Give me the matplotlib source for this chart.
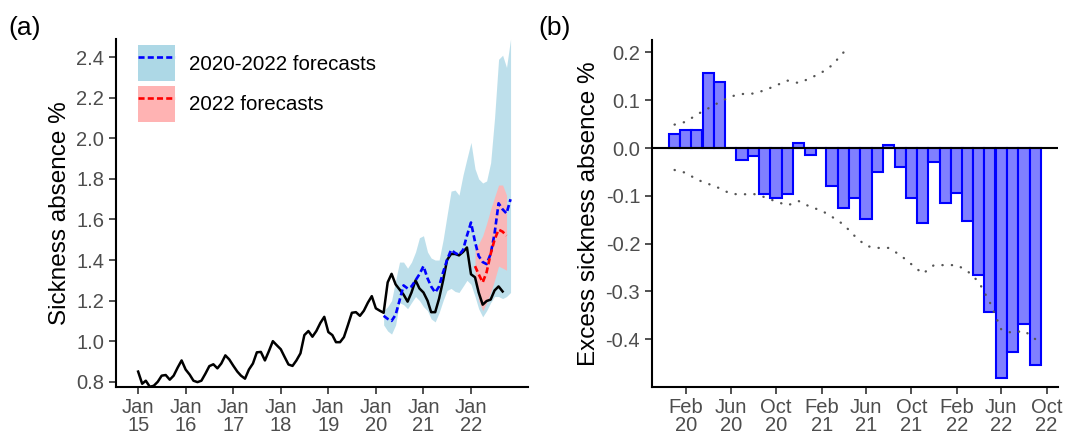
import numpy as np
import pandas as pd
import matplotlib
matplotlib.use("Agg")
import matplotlib.pyplot as plt
from matplotlib.patches import Patch
from matplotlib.lines import Line2D

plt.rcParams['font.family'] = ['Liberation Sans', 'DejaVu Sans']

# ---- panel (a): monthly sickness absence rate, Jan 2015 - Sep 2022
observed = [
    0.85, 0.79, 0.805, 0.775, 0.78, 0.80, 0.83, 0.833, 0.81, 0.83, 0.87, 0.905,
    0.86, 0.835, 0.805, 0.798, 0.805, 0.84, 0.877, 0.886, 0.866, 0.89, 0.93, 0.91,
    0.879, 0.85, 0.83, 0.815, 0.86, 0.89, 0.945, 0.947, 0.905, 0.95, 1.00, 0.98,
    0.96, 0.92, 0.885, 0.878, 0.905, 0.94, 1.03, 1.05, 1.022, 1.05, 1.09, 1.12,
    1.045, 1.03, 0.995, 0.995, 1.02, 1.08, 1.14, 1.143, 1.125, 1.15, 1.19, 1.222,
    1.162, 1.15, 1.14, 1.29, 1.332, 1.28, 1.255, 1.23, 1.195, 1.24, 1.30, 1.26,
    1.24, 1.20, 1.143, 1.143, 1.21, 1.30, 1.40, 1.43, 1.43, 1.423, 1.44, 1.462,
    1.33, 1.315, 1.24, 1.18, 1.198, 1.205, 1.25, 1.27, 1.245,
]
obs_dates = pd.date_range("2015-01-01", periods=len(observed), freq="MS")

# 2020-2022 forecasts (Mar 2020 - Nov 2022)
fc_all = [1.125, 1.11, 1.10, 1.13, 1.20, 1.275, 1.26, 1.27, 1.30, 1.33, 1.37,
          1.31, 1.27, 1.24, 1.27, 1.34, 1.40, 1.45, 1.435, 1.425, 1.45, 1.52,
          1.585, 1.49, 1.42, 1.39, 1.38, 1.43, 1.53, 1.68, 1.65, 1.63, 1.70]
fc_all_hi = [1.15, 1.17, 1.20, 1.30, 1.39, 1.39, 1.36, 1.39, 1.44, 1.51, 1.52,
             1.44, 1.41, 1.40, 1.40, 1.50, 1.62, 1.74, 1.745, 1.72, 1.82, 1.90,
             1.98, 1.85, 1.80, 1.78, 1.79, 1.88, 2.10, 2.39, 2.41, 2.35, 2.49]
fc_all_lo = [1.08, 1.05, 1.035, 1.08, 1.19, 1.18, 1.16, 1.19, 1.22, 1.20, 1.17,
             1.15, 1.11, 1.095, 1.14, 1.20, 1.25, 1.26, 1.245, 1.24, 1.27, 1.30,
             1.28, 1.22, 1.16, 1.12, 1.15, 1.19, 1.22, 1.22, 1.21, 1.22, 1.24]
fc_all_dates = pd.date_range("2020-03-01", periods=len(fc_all), freq="MS")

# 2022 forecasts (Feb 2022 - Oct 2022)
fc_22 = [1.37, 1.33, 1.29, 1.34, 1.43, 1.50, 1.55, 1.54, 1.52]
fc_22_hi = [1.46, 1.48, 1.52, 1.58, 1.65, 1.71, 1.77, 1.77, 1.72]
fc_22_lo = [1.33, 1.20, 1.15, 1.19, 1.24, 1.30, 1.37, 1.36, 1.35]
fc_22_dates = pd.date_range("2022-02-01", periods=len(fc_22), freq="MS")

# ---- panel (b): monthly excess sickness absence, Jan 2020 - Sep 2022
excess = [0.03, 0.038, 0.038, 0.158, 0.138, 0.0, -0.025, -0.017, -0.096, -0.104,
          -0.097, 0.01, -0.015, 0.0, -0.08, -0.125, -0.104, -0.149, -0.051, 0.006,
          -0.04, -0.105, -0.156, -0.03, -0.115, -0.095, -0.153, -0.266, -0.344,
          -0.481, -0.426, -0.368, -0.455]
exc_dates = pd.date_range("2020-01-01", periods=len(excess), freq="MS")
exc_upper = [0.049, 0.055, 0.07, 0.083, 0.096, 0.108, 0.113, 0.114, 0.121, 0.131,
             0.141, 0.136, 0.146, 0.158, 0.173, 0.2]
exc_lower = [-0.046, -0.052, -0.066, -0.075, -0.084, -0.096, -0.097, -0.096, -0.103,
             -0.112, -0.12, -0.111, -0.123, -0.131, -0.144, -0.16, -0.184, -0.205,
             -0.209, -0.209, -0.224, -0.243, -0.263, -0.245, -0.245, -0.245, -0.257,
             -0.28, -0.323, -0.38, -0.387, -0.382, -0.40]

tick_grey = "#4d4d4d"
dash = (0, (2.3, 1.2))

fig = plt.figure(figsize=(10.65, 4.38), dpi=100)
ax1 = fig.add_axes([116 / 1065, 1 - 387 / 438, (528 - 116) / 1065, (387 - 39) / 438])
ax2 = fig.add_axes([652 / 1065, 1 - 387 / 438, (1058 - 652) / 1065, (387 - 40) / 438])

# panel (a)
ax1.fill_between(fc_all_dates, fc_all_lo, fc_all_hi, color="#add8e6", alpha=0.8,
                 linewidth=0)
ax1.fill_between(fc_22_dates, fc_22_lo, fc_22_hi, color="#ffb3b3", alpha=0.9,
                 linewidth=0)
ax1.plot(obs_dates, observed, color="black", lw=1.8)
ax1.plot(fc_all_dates, fc_all, color="blue", lw=1.9, ls=dash)
ax1.plot(fc_22_dates, fc_22, color="red", lw=1.9, ls=dash)

ax1.set_xlim(pd.Timestamp("2014-07-15"), pd.Timestamp("2023-03-15"))
ax1.set_ylim(0.774, 2.49)
yt = np.arange(0.8, 2.41, 0.2)
ax1.set_yticks(yt)
ax1.set_yticklabels([f"{v:.1f}" for v in yt])
jan_ticks = pd.date_range("2015-01-01", "2022-01-01", freq="YS")
ax1.set_xticks(jan_ticks)
ax1.set_xticklabels([f"Jan\n{d.strftime('%y')}" for d in jan_ticks])
ax1.set_ylabel("Sickness absence %", fontsize=17.5)

leg_handles = [
    (Patch(facecolor="#add8e6", edgecolor="none"),
     Line2D([], [], color="blue", lw=1.9, ls=dash)),
    (Patch(facecolor="#ffb3b3", edgecolor="none"),
     Line2D([], [], color="red", lw=1.9, ls=dash)),
]
ax1.legend(leg_handles, ["2020-2022 forecasts", "2022 forecasts"], loc="upper left",
           bbox_to_anchor=((138 - 116) / 412, 1 - (45 - 39) / 348), frameon=False,
           fontsize=14.8, handlelength=1.8, handleheight=2.35, labelspacing=0.2,
           handletextpad=0.7, borderaxespad=0, borderpad=0)

# panel (b)
ax2.bar(exc_dates, excess, width=30.4, color="#8080ff", edgecolor="blue",
        linewidth=1.5, zorder=2)
ax2.axhline(0, color="black", lw=1.5, zorder=3)
for band in (exc_upper, exc_lower):
    ax2.plot(exc_dates[:len(band)], band, color="#555555", lw=1.7,
             ls=(0, (0.1, 3.9)), dash_capstyle="round", zorder=4)
ax2.set_xlim(pd.Timestamp("2019-11-01"), pd.Timestamp("2022-11-01"))
ax2.set_ylim(-0.5, 0.226)
bt = [-0.4, -0.3, -0.2, -0.1, 0.0, 0.1, 0.2]
ax2.set_yticks(bt)
ax2.set_yticklabels([f"{v:.1f}" for v in bt])
b_ticks = pd.date_range("2020-02-01", "2022-10-01", freq="4MS")
ax2.set_xticks(b_ticks)
ax2.set_xticklabels([f"{d.strftime('%b')}\n{d.strftime('%y')}" for d in b_ticks])
ax2.set_ylabel("Excess sickness absence %", fontsize=17.5)

for ax in (ax1, ax2):
    for s in ("top", "right"):
        ax.spines[s].set_visible(False)
    for s in ("left", "bottom"):
        ax.spines[s].set_linewidth(1.5)
    ax.tick_params(axis="both", colors="#333333", length=5, width=1.2,
                   labelsize=14.5, labelcolor=tick_grey)
    ax.tick_params(axis="x", pad=3)
    for lab in ax.get_xticklabels():
        lab.set_linespacing(0.95)

fig.text(8 / 1065, 1 - 28 / 438, "(a)", fontsize=19, va="center")
fig.text(538 / 1065, 1 - 28 / 438, "(b)", fontsize=19, va="center")

fig.savefig("out.png", dpi=100)
